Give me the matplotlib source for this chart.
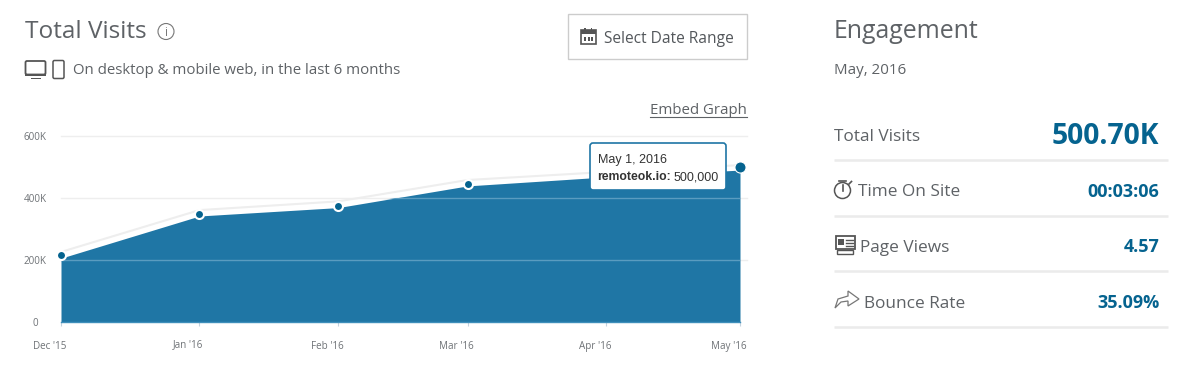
import pandas as pd
import matplotlib
matplotlib.use('Agg')
import matplotlib.pyplot as plt
from matplotlib.patches import Rectangle, FancyBboxPatch, Circle, Polygon

plt.rcParams['font.family'] = ['Open Sans', 'DejaVu Sans']

# Data
months = ['2015-12-01', '2016-01-01', '2016-02-01', '2016-03-01', '2016-04-01', '2016-05-01']
month_labels = ["Dec '15", "Jan '16", "Feb '16", "Mar '16", "Apr '16", "May '16"]
visits = [216000, 348000, 375000, 445000, 474000, 500000]
line_top = [226000, 361000, 389000, 458000, 484000, 506000]
area_top = [206000, 342000, 369000, 439000, 468000, 490000]
y_ticks = [0, 200000, 400000, 600000]
y_labels = ['0', '200K', '400K', '600K']

metric_names = ['Total Visits', 'Time On Site', 'Page Views', 'Bounce Rate']
metric_values = ['500.70K', '00:03:06', '4.57', '35.09%']

BLUE = '#1f76a5'
DARK = '#05638f'
TEXT = '#5e6266'
dates = pd.to_datetime(months)

fig = plt.figure(figsize=(12, 3.65), dpi=100, facecolor='white')

# Chart, placed by pixels
ax = fig.add_axes([61 / 1200, 1 - 322 / 365, 679 / 1200, 186 / 365])
area = ax.fill_between(dates, area_top, 0, color=BLUE, lw=0, zorder=2)
ax.plot(dates, line_top, color='#eeeeee', lw=1.5, zorder=1.5)
ax.plot(dates[:-1], visits[:-1], 'o', ms=6.5, mfc=DARK, mec='white', mew=1.5, zorder=4, clip_on=False)
ax.plot(dates[-1:], visits[-1:], 'o', ms=8, mfc=DARK, mec='white', mew=0.8, zorder=4, clip_on=False)
ax.set_xlim(dates[0], dates[-1])
ax.set_ylim(0, 600000)
for s in ax.spines.values():
    s.set_visible(False)
ax.spines['bottom'].set_visible(True)
ax.spines['bottom'].set_color('#3f8fbb')
ax.spines['bottom'].set_linewidth(1)
ax.spines['bottom'].set_zorder(3)
ax.set_xticks(dates)
ax.set_xticklabels([])
ax.set_yticks(y_ticks)
ax.set_yticklabels(y_labels)
ax.tick_params(axis='x', length=3, width=0.8, color='#c5d3de')
ax.tick_params(axis='y', length=0, labelsize=7.1, labelcolor='#6f7377', pad=18.4)
for lbl in ax.get_yticklabels():
    lbl.set_ha('center')

# Month labels sit left of their ticks in the original
for d, name in zip(dates, month_labels):
    # the J drops the label a little when rendered, pull it back up
    drop = -25 if name.startswith('J') else -27
    ax.annotate(name, (d, 0), xytext=(-11 * 0.72, drop * 0.72), textcoords='offset points',
                ha='center', va='baseline', fontsize=7.1, color='#6f7377', annotation_clip=False)

# Grid: grey on the page, pale blue where it crosses the area
for t in y_ticks[1:]:
    ax.plot([0, 1.0103], [t / 600000, t / 600000], transform=ax.transAxes, color='#eeeeee', lw=1, clip_on=False, zorder=1)
    grid_over = ax.plot([dates[0], dates[-1]], [t, t], color='#5a9cc0', lw=1, zorder=3)[0]
    grid_over.set_clip_path(area.get_paths()[0], transform=ax.transData)
ax.patch.set_alpha(0)

# Overlay in pixel coordinates for the page furniture
ov = fig.add_axes([0, 0, 1, 1], zorder=5)
ov.set_xlim(0, 1200)
ov.set_ylim(365, 0)
ov.axis('off')
ov.patch.set_alpha(0)

ov.text(25, 32, 'Total Visits', fontsize=17.6, color=TEXT, va='center')
ov.add_patch(Circle((166, 31.5), 8, fc='none', ec='#777777', lw=0.8))
ov.text(166, 32, 'i', fontsize=8.5, color='#777777', ha='center', va='center')
ov.text(73, 71, 'On desktop & mobile web, in the last 6 months', fontsize=10.85, color=TEXT, va='center')

# Desktop and phone icons
ov.add_patch(FancyBboxPatch((25.5, 61), 20, 13.5, boxstyle='round,pad=0,rounding_size=1.5', fc='none', ec='#555555', lw=1.3))
ov.add_patch(Rectangle((25, 74), 21, 2, fc='#555555', lw=0))
ov.add_patch(Rectangle((31, 78), 10, 1.3, fc='#555555', lw=0))
ov.add_patch(FancyBboxPatch((53, 60.5), 11, 18, boxstyle='round,pad=0,rounding_size=1.5', fc='none', ec='#555555', lw=1.1))

# Date button
ov.add_patch(Rectangle((568, 14), 179, 45, fc='white', ec='#cccccc', lw=1))
ov.add_patch(Rectangle((580.5, 30), 15, 14, fc='none', ec='#555555', lw=1.2))
ov.add_patch(Rectangle((580.5, 30), 15, 4, fc='#555555', lw=0))
ov.add_patch(Rectangle((584, 28), 1.5, 4, fc='#555555', lw=0))
ov.add_patch(Rectangle((590.5, 28), 1.5, 4, fc='#555555', lw=0))
for bx in (584, 587.5, 591):
    ov.add_patch(Rectangle((bx, 37), 2, 3.5, fc='#555555', lw=0))
ov.text(604, 39, 'Select Date Range', fontsize=11.2, color='#53575b', va='center')

ov.text(747, 111, 'Embed Graph', fontsize=10.8, color=TEXT, ha='right', va='center')
ov.plot([650, 747], [116.5, 116.5], color=TEXT, lw=0.8)

# Tooltip
ov.add_patch(FancyBboxPatch((590, 143), 136, 47, boxstyle='round,pad=0,rounding_size=3', fc='white', ec=BLUE, lw=1.2))
ov.text(597.5, 160.5, 'May 1, 2016', fontsize=9, color='#333333', va='center', family='Liberation Sans')
ov.text(597.5, 177.5, 'remoteok.io:', fontsize=8.8, color='#333333', va='center', family='Liberation Sans', weight='bold')
ov.text(674, 177.5, '500,000', fontsize=9, color='#333333', va='center', family='Liberation Sans')

# Engagement panel
ov.text(834, 32, 'Engagement', fontsize=17.9, color=TEXT, va='center')
ov.text(834, 71, 'May, 2016', fontsize=10.9, color=TEXT, va='center')

name_x = [834, 858, 860, 864]
row_y = [137, 192, 248, 304]
value_y = [137, 192, 247, 303]
rule_y = [160, 216, 271, 327]
value_size = [20.3, 13, 13, 13]
for i in range(4):
    ov.text(name_x[i], row_y[i], metric_names[i], fontsize=12.4, color=TEXT, va='center')
    ov.text(1159.5, value_y[i], metric_values[i], fontsize=value_size[i], color=DARK, ha='right', va='center', weight='bold')
    ov.plot([834, 1168], [rule_y[i], rule_y[i]], color='#ebebeb', lw=1.8, solid_capstyle='butt')

# Stopwatch icon
ov.add_patch(Circle((842.5, 190.5), 8, fc='none', ec='#555555', lw=1.1))
ov.plot([842.5, 842.5], [185, 191], color='#555555', lw=1.2)
ov.plot([839, 846], [181, 181], color='#555555', lw=1.2)
ov.plot([849, 851.5], [184, 181.5], color='#555555', lw=1.2)

# Newspaper icon
ov.add_patch(Rectangle((835.5, 236), 19, 13, fc='none', ec='#555555', lw=1.3))
ov.add_patch(Rectangle((838, 239), 6, 6, fc='#555555', lw=0))
for ly in (239.5, 242.5, 245.5):
    ov.plot([846, 853], [ly, ly], color='#555555', lw=1)
ov.add_patch(Rectangle((837, 250), 16, 3.5, fc='none', ec='#555555', lw=1))

# Share arrow icon
ov.add_patch(Polygon([(835, 308), (838, 299), (848, 296), (848, 291), (859, 299), (848, 306), (848, 301), (841, 302)],
                     closed=True, fc='none', ec='#777777', lw=0.9))

fig.savefig('out.png', dpi=100)
